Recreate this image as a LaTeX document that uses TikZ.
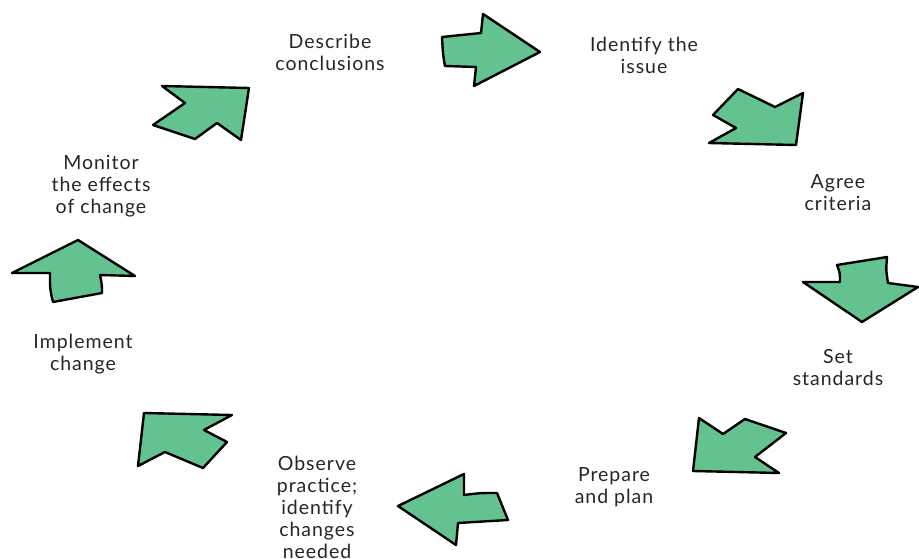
\documentclass[tikz,border=0pt]{standalone}
\usepackage{fontspec}
\setmainfont{Lato}[LetterSpace=5]
\definecolor{arrowgreen}{RGB}{99,194,144}
\begin{document}
\begin{tikzpicture}[x=1pt,y=-1pt,
  cyclearrow/.style={fill=arrowgreen,draw=black,line width=2.4pt,line join=round},
  steplabel/.style={align=center,font=\fontsize{19.5}{22}\selectfont,inner sep=0pt,text=black!85}]
\useasboundingbox (0,0) rectangle (919,559);
% arrows
\path[cyclearrow] (442,37) -- (481,33) -- (483,14) -- (540,52) -- (474,86) -- (476,67) -- (445,66) .. controls (443,55) .. cycle;
\path[cyclearrow] (738,89) -- (775,107) -- (803,93) -- (796,145) -- (709,143) -- (736,128) -- (713,115) -- cycle;
\path[cyclearrow] (837,265) -- (887,257) .. controls (886,270) .. (888,283) -- (918,287) -- (862,322) -- (803,282) -- (840,282) .. controls (840,273) .. cycle;
\path[cyclearrow] (699,418) -- (723,434) -- (745,419) -- (786,433) -- (755,457) -- (779,473) -- (693,471) -- cycle;
\path[cyclearrow] (398,506) -- (464,474) -- (464,495) .. controls (480,493) .. (497,493) -- (508,520) -- (458,523) -- (456,545) -- cycle;
\path[cyclearrow] (144,413) -- (232,415) -- (204,430) -- (227,442) -- (203,468) -- (165,452) -- (138,466) -- cycle;
\path[cyclearrow] (78,240) -- (135,276) -- (100,275) .. controls (102,285) .. (102,293) -- (53,302) .. controls (50,290) .. (50,273) -- (12,273) -- cycle;
\path[cyclearrow] (162,86) -- (249,88) -- (241,140) -- (217,123) -- (195,139) -- (153,125) -- (185,103) -- cycle;
% labels
\node[steplabel] (describe) at (330,52) {Describe\\conclusions};
\node[steplabel] (identify) at (644,55) {Identify the\\issue};
\node[steplabel] (agree) at (838,193) {Agree\\criteria};
\node[steplabel] (set) at (838,368) {Set\\standards};
\node[steplabel] (prepare) at (614,487) {Prepare\\and plan};
\node[steplabel] (observe) at (317,507) {Observe\\practice;\\identify\\changes\\needed};
\node[steplabel] (implement) at (83,354) {Implement\\change};
\node[steplabel] (monitor) at (101,186) {Monitor\\the effects\\of change};
\end{tikzpicture}
\end{document}
